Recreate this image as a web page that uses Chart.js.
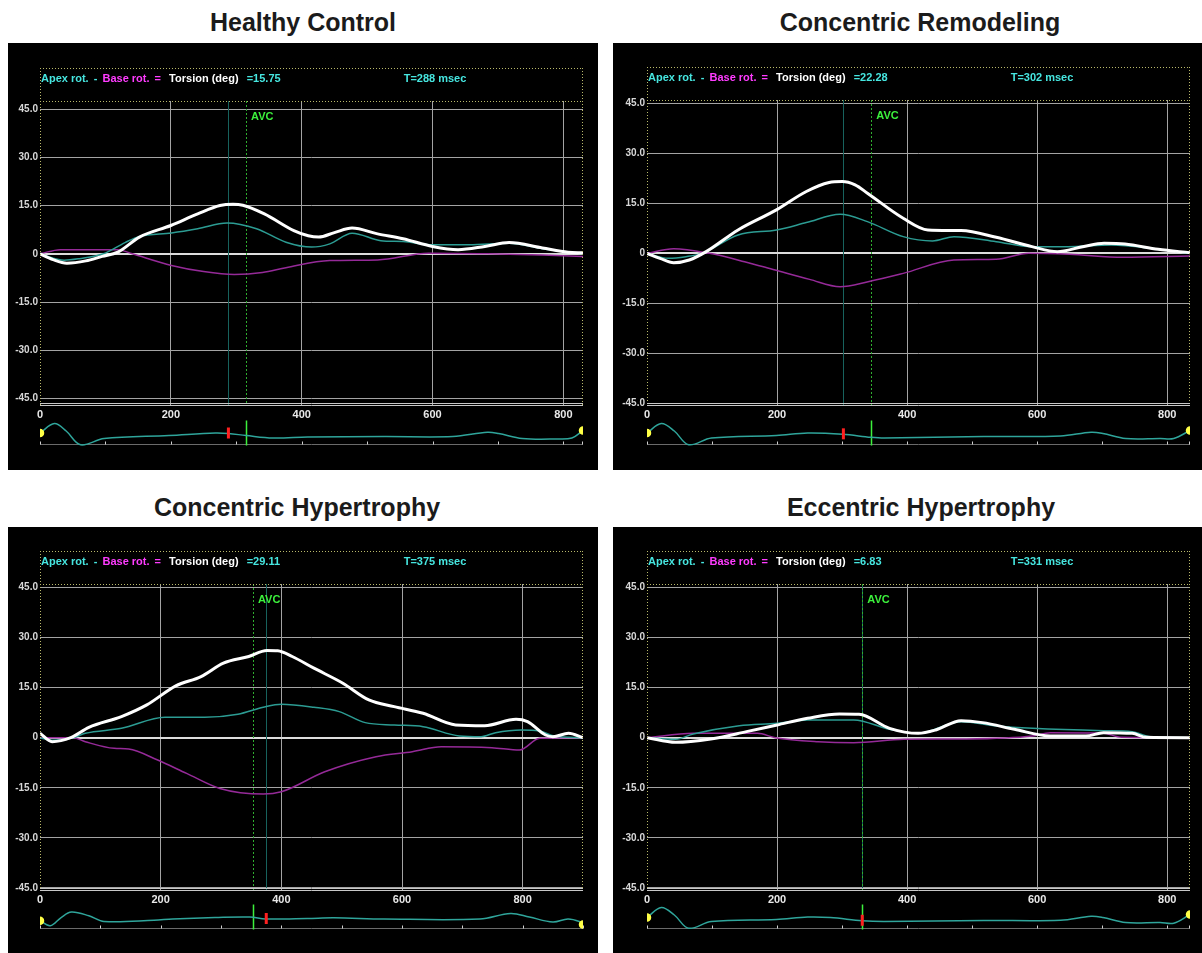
<!DOCTYPE html>
<html>
<head>
<meta charset="utf-8">
<script src="https://cdn.jsdelivr.net/npm/chart.js@4.4.0/dist/chart.umd.min.js"></script>
<style>
  body { margin:0; background:#fff; width:1202px; height:953px; overflow:hidden; position:relative; font-family:"Liberation Sans", Arial, sans-serif; }
  .title { position:absolute; font-weight:bold; font-size:25px; color:#1b1b1b; transform:translateX(-50%); white-space:nowrap; line-height:25px; }
  .box { position:absolute; background:#000; overflow:hidden; }
  canvas { position:absolute; }
</style>
</head>
<body>
<script>
// ---- data ----
const titles = ['Healthy Control', 'Concentric Remodeling', 'Concentric Hypertrophy', 'Eccentric Hypertrophy'];
const torsionText = ['15.75', '22.28', '29.11', '6.83'];
const tMarks = [288, 302, 375, 331];      // msec of peak torsion
const avcMarks = [315, 345, 353, 331];    // aortic valve closure
const xMax = [830, 835, 900, 835];
const yTicks = [-45, -30, -15, 0, 15, 30, 45];
const xTicks = [0, 200, 400, 600, 800];

// [msec, deg]
const hcTorsion = [[0,0],[20,-1.8],[41,-2.9],[70,-2.2],[95,-0.8],[119,0.5],[152,5.2],[200,8.8],[241,12.4],[275,15],[295,15.4],[310,15.1],[343,12.4],[388,7.2],[410,5.6],[426,5.2],[450,6.6],[477,8],[516,6.2],[555,4.7],[600,2.3],[639,1.3],[680,2.3],[717,3.5],[768,1.8],[807,0.5],[830,0.3]];
const hcApex = [[0,0],[37,-2],[60,-1.5],[97,0],[130,3.5],[152,5.4],[201,6.5],[241,7.8],[286,9.6],[331,7.8],[376,3.6],[415,2.1],[443,3.1],[477,6.4],[521,4.1],[555,3.8],[600,2.8],[656,2.8],[717,3.3],[768,1.6],[830,0]];
const hcBase = [[0,0],[31,1.3],[119,1.3],[141,0],[201,-3.6],[250,-5.5],[297,-6.4],[340,-5.8],[376,-4.3],[443,-2.1],[516,-1.9],[594,0.2],[684,0],[768,-0.4],[830,-0.8]];

const crTorsion = [[0,0],[20,-1.5],[41,-2.8],[65,-2],[91,0.5],[140,7],[199,13],[245,18.5],[280,21.2],[300,21.5],[320,20.5],[339,18],[394,10.5],[432,7],[483,6.8],[537,4.8],[592,2],[631,0.5],[670,2],[703,3],[735,2.8],[786,1.2],[835,0.2]];
const crApex = [[0,0],[33,-1.5],[60,-1],[85,0],[140,5.5],[199,7],[245,9.2],[297,11.7],[339,9.5],[394,5],[439,3.7],[472,5],[537,3.5],[592,2],[647,2],[714,2.5],[786,1.2],[835,0]];
const crBase = [[0,0],[41,1.4],[96,0],[150,-2.5],[197,-5],[250,-7.8],[297,-10],[340,-8.5],[394,-6],[472,-2],[537,-1.8],[587,0],[650,-0.3],[732,-1.2],[835,-0.8]];

const chTorsion = [[0,1.3],[20,-1.2],[51,0],[81,3.1],[135,6.3],[177,9.8],[225,15.5],[267,18.3],[304,22.3],[346,24.3],[376,26.1],[394,26],[418,24.3],[454,20.8],[502,16.3],[545,11.3],[587,9.3],[635,7.3],[689,3.8],[737,3.6],[789,5.5],[808,4.8],[838,0.8],[850,0.3],[876,1.3],[900,0]];
const chApex = [[0,0],[20,-0.8],[55,0],[75,1.3],[135,2.8],[207,6.1],[273,6.1],[328,7],[370,9.1],[400,10],[454,9.1],[496,7.8],[539,4.5],[587,3.8],[635,3.3],[695,0.5],[731,0.3],[755,1.5],[798,2.3],[828,2],[852,0.5],[900,0]];
const chBase = [[0,0],[55,0],[75,-1.2],[123,-3.2],[147,-3.4],[195,-6.7],[243,-10.7],[298,-15.2],[370,-16.9],[400,-16.2],[472,-10.2],[557,-5.7],[617,-4.2],[665,-2.7],[749,-3],[795,-3.7],[828,-0.2],[900,0]];

const ehTorsion = [[0,0],[44,-1.4],[98,-0.4],[153,1.8],[200,3.8],[247,5.8],[296,7.1],[326,7],[373,2.8],[417,1.3],[444,2.3],[483,5.1],[516,4.5],[565,2.5],[620,0.5],[675,0.5],[702,1.5],[746,1.3],[768,0.1],[835,0]];
const ehApex = [[0,0],[44,-0.5],[71,1.1],[142,3.6],[200,4.3],[247,5.3],[318,5.3],[373,2.5],[417,1.3],[483,4.8],[538,3.5],[593,2.8],[702,2.1],[746,1.8],[774,0.3],[835,0]];
const ehBase = [[0,0],[71,1.3],[170,1.3],[197,0],[263,-1.2],[318,-1.5],[395,-0.5],[483,-0.4],[593,0.5],[620,1.5],[700,1.4],[730,0.1],[835,0]];

// ECG strip (arbitrary units)
const hcEcg = [[0,4.2],[22,8],[40,5],[62,-0.5],[98,2],[197,3.2],[268,4.2],[288,4],[315,3.2],[356,2.2],[409,2.6],[526,2.8],[631,2.8],[684,4.5],[701,4],[737,2],[790,1.8],[813,2.2],[830,5.2]];
const crEcg = [[0,4.2],[22,8],[42,5],[64,-0.5],[99,2.2],[199,3.2],[247,4.2],[301,3.7],[344,2.5],[365,2.2],[518,2.8],[636,3],[683,4.5],[701,4],[736,2],[789,2],[810,2],[835,5.2]];
const chEcg = [[0,2.7],[17,0.7],[35,4],[52,6.2],[81,4.7],[106,2.4],[189,2.9],[220,3.4],[290,4],[348,4.2],[374,3.4],[443,3.6],[487,3.9],[570,3.4],[729,3.4],[780,5.6],[811,4.2],[850,2.2],[875,3.4],[894,2.4],[900,1.2]];
const ehEcg = [[0,4],[22,8],[42,5],[64,-0.3],[99,2.4],[199,3.2],[247,4.2],[282,4],[331,2.7],[365,2.4],[518,2.8],[636,2.9],[683,4.5],[701,4],[736,2],[789,2],[810,1.7],[835,5.2]];

const torsionSets = [hcTorsion, crTorsion, chTorsion, ehTorsion];
const apexSets = [hcApex, crApex, chApex, ehApex];
const baseSets = [hcBase, crBase, chBase, ehBase];
const ecgSets = [hcEcg, crEcg, chEcg, ehEcg];

// ---- layout ----
const panels = [
  {box:[8,43,590,427], area:[32,58,575,363], yMin:-47.3, yMax:47.5, ecgBase:447, tx:303, ty:10},
  {box:[613,43,600,427], area:[34,57,577,363], yMin:-45.7, yMax:45.9, ecgBase:447, tx:920, ty:10},
  {box:[8,527,590,426], area:[32,57,575,364], yMin:-45.9, yMax:46.0, ecgBase:931, tx:297, ty:495},
  {box:[613,527,600,426], area:[34,57,577,364], yMin:-45.9, yMax:46.0, ecgBase:931, tx:921, ty:495}
];

const CYAN = '#46e6e0', MAGENTA = '#ff3cff', GREEN = '#3cf03c', DOT = '#b9b96a';
const APEX = '#2c9c93', BASE = '#952a98';
const ECG_PX = 3.33;

function toXY(arr) { return arr.map(p => ({x: p[0], y: p[1]})); }

function valueAt(arr, t) {
  for (let i = 1; i < arr.length; i++) {
    if (arr[i][0] >= t) {
      const [x0, y0] = arr[i-1], [x1, y1] = arr[i];
      return y0 + (y1 - y0) * (t - x0) / (x1 - x0);
    }
  }
  return arr[arr.length-1][1];
}

function vline(ctx, x, y0, y1) { ctx.beginPath(); ctx.moveTo(x, y0); ctx.lineTo(x, y1); ctx.stroke(); }
function hline(ctx, x0, x1, y) { ctx.beginPath(); ctx.moveTo(x0, y); ctx.lineTo(x1, y); ctx.stroke(); }

const framePlugin = {
  id: 'frame',
  beforeDatasetsDraw(chart, args, o) {
    const {ctx, chartArea: a, scales: {x}} = chart;
    ctx.save();
    ctx.lineWidth = 1;
    ctx.strokeStyle = '#17625d';
    vline(ctx, Math.round(x.getPixelForValue(o.t)) + 0.5, a.top, a.bottom);
    ctx.strokeStyle = '#2fae2f';
    ctx.setLineDash([2, 2]);
    vline(ctx, Math.round(x.getPixelForValue(o.avc)) + 0.5, a.top, a.bottom);
    ctx.restore();
  },
  afterDraw(chart, args, o) {
    const {ctx, chartArea: a, scales: {x}} = chart;
    const top = a.top - 33;
    ctx.save();
    // dotted frame
    ctx.strokeStyle = DOT;
    ctx.lineWidth = 1;
    ctx.setLineDash([1, 2]);
    hline(ctx, a.left, a.right, top + 0.5);
    hline(ctx, a.left, a.right, a.top + 0.5);
    vline(ctx, a.left + 0.5, top, a.bottom);
    vline(ctx, a.right - 0.5, top, a.bottom);
    ctx.setLineDash([]);
    // double axis line
    ctx.strokeStyle = '#c8c8c8';
    hline(ctx, a.left, a.right, a.bottom - 0.5);
    hline(ctx, a.left, a.right, a.bottom - 2.5);
    // header text
    ctx.font = 'bold 11px "Liberation Sans", Arial, sans-serif';
    ctx.textBaseline = 'middle';
    let cx = a.left + 1;
    const cy = top + 11;
    const parts = [['Apex rot.', CYAN], [' - ', CYAN], ['Base rot.', MAGENTA], [' = ', MAGENTA], [' Torsion (deg) ', '#ffffff'], [' =' + o.torsion, CYAN]];
    parts.forEach(([s, c]) => { ctx.fillStyle = c; ctx.fillText(s, cx, cy); cx += ctx.measureText(s).width + 2; });
    ctx.fillStyle = CYAN;
    ctx.textAlign = 'center';
    ctx.fillText('T=' + o.t + ' msec', a.left + 395, cy);
    // AVC label
    ctx.textAlign = 'left';
    ctx.fillStyle = GREEN;
    ctx.fillText('AVC', x.getPixelForValue(o.avc) + 5, a.top + 16);
    ctx.restore();
  }
};

const ecgPlugin = {
  id: 'ecgMarks',
  beforeDatasetsDraw(chart, args, o) {
    const {ctx, chartArea: a, scales: {x, y}} = chart;
    const by = Math.round(y.getPixelForValue(0)) + 0.5;
    ctx.save();
    ctx.strokeStyle = '#6a6a6a';
    ctx.lineWidth = 1;
    hline(ctx, x.getPixelForValue(0), x.getPixelForValue(o.xMax), by);
    ctx.strokeStyle = '#d0d0d0';
    for (let t = 0; t <= o.xMax; t += 100) vline(ctx, Math.round(x.getPixelForValue(t)) + 0.5, by - 3, by);
    vline(ctx, Math.round(x.getPixelForValue(o.xMax)) - 0.5, by - 3, by);
    ctx.strokeStyle = GREEN;
    ctx.lineWidth = 1.5;
    const gx = Math.round(x.getPixelForValue(o.avc)) + 0.5;
    vline(ctx, gx, a.top + 4, by + 1);
    ctx.restore();
  },
  afterDatasetsDraw(chart, args, o) {
    const {ctx, scales: {x, y}} = chart;
    const px = x.getPixelForValue(o.t);
    const py = y.getPixelForValue(valueAt(o.ecg, o.t));
    ctx.save();
    ctx.strokeStyle = '#ff2020';
    ctx.lineWidth = 3;
    vline(ctx, px, py - 6, py + 5);
    ctx.restore();
  }
};

panels.forEach((p, i) => {
  const [bx, by, bw, bh] = p.box;
  const [al, at, ar, ab] = p.area;

  const t = document.createElement('div');
  t.className = 'title';
  t.textContent = titles[i];
  t.style.left = p.tx + 'px';
  t.style.top = p.ty + 'px';
  document.body.appendChild(t);

  const box = document.createElement('div');
  box.className = 'box';
  Object.assign(box.style, {left: bx + 'px', top: by + 'px', width: bw + 'px', height: bh + 'px'});
  document.body.appendChild(box);

  const c = document.createElement('canvas');
  c.width = bw; c.height = bh;
  c.style.left = '0px'; c.style.top = '0px';
  box.appendChild(c);

  new Chart(c, {
    type: 'line',
    data: {
      datasets: [
        {data: toXY(torsionSets[i]), borderColor: '#ffffff', borderWidth: 3, cubicInterpolationMode: 'monotone', order: 0},
        {data: toXY(apexSets[i]), borderColor: APEX, borderWidth: 1.5, cubicInterpolationMode: 'monotone', order: 1},
        {data: toXY(baseSets[i]), borderColor: BASE, borderWidth: 1.5, cubicInterpolationMode: 'monotone', order: 2}
      ]
    },
    options: {
      responsive: false, animation: false, devicePixelRatio: 1,
      layout: {padding: {left: 0, top: at, right: bw - ar, bottom: bh - ab - 16}},
      elements: {point: {radius: 0}},
      plugins: {
        legend: {display: false}, tooltip: {enabled: false},
        frame: {t: tMarks[i], avc: avcMarks[i], torsion: torsionText[i]}
      },
      scales: {
        x: {
          type: 'linear', min: 0, max: xMax[i],
          afterFit: s => { s.height = 16; },
          afterBuildTicks: s => { s.ticks = xTicks.map(v => ({value: v})); },
          border: {display: false},
          grid: {drawTicks: false, color: c => c.tick && c.tick.value === 0 ? 'rgba(0,0,0,0)' : '#a4a4a4'},
          ticks: {padding: 2, maxRotation: 0, autoSkip: false, color: '#e8e8e8', font: {family: '"Liberation Sans", Arial, sans-serif', size: 11, weight: 'bold'}}
        },
        y: {
          min: p.yMin, max: p.yMax,
          afterFit: s => { s.width = al; },
          afterBuildTicks: s => { s.ticks = yTicks.map(v => ({value: v})); },
          border: {display: false},
          grid: {drawTicks: false, color: c => c.tick && c.tick.value === 0 ? '#dcdcdc' : '#a4a4a4', lineWidth: c => c.tick && c.tick.value === 0 ? 2 : 1},
          ticks: {padding: 2, color: '#d8d8d8', font: {family: '"Liberation Sans", Arial, sans-serif', size: 10, weight: 'bold'},
                  callback: v => v === 0 ? '0' : v.toFixed(1)}
        }
      }
    },
    plugins: [framePlugin]
  });

  // ECG strip under the plot
  const plotW = ar - al;
  const e = document.createElement('canvas');
  const eTop = p.ecgBase - 36 - by;
  e.width = plotW + 12; e.height = 44;
  e.style.left = (al - 6) + 'px'; e.style.top = eTop + 'px';
  box.appendChild(e);
  new Chart(e, {
    type: 'line',
    data: {datasets: [{
      data: toXY(ecgSets[i]), borderColor: '#2fa59b', borderWidth: 1.5, tension: 0.35,
      pointRadius: c => (c.dataIndex === 0 || c.dataIndex === ecgSets[i].length - 1) ? 3.5 : 0,
      pointBackgroundColor: '#ffff46', pointBorderColor: '#ffff46'
    }]},
    options: {
      responsive: false, animation: false, devicePixelRatio: 1,
      layout: {padding: {left: 6, right: 6, top: 0, bottom: 0}},
      plugins: {legend: {display: false}, tooltip: {enabled: false},
                ecgMarks: {t: tMarks[i], avc: avcMarks[i], xMax: xMax[i], ecg: ecgSets[i]}},
      scales: {
        x: {type: 'linear', display: false, min: 0, max: xMax[i]},
        y: {display: false, min: -8 / ECG_PX, max: 36 / ECG_PX}
      }
    },
    plugins: [ecgPlugin]
  });
});
</script>
</body>
</html>
